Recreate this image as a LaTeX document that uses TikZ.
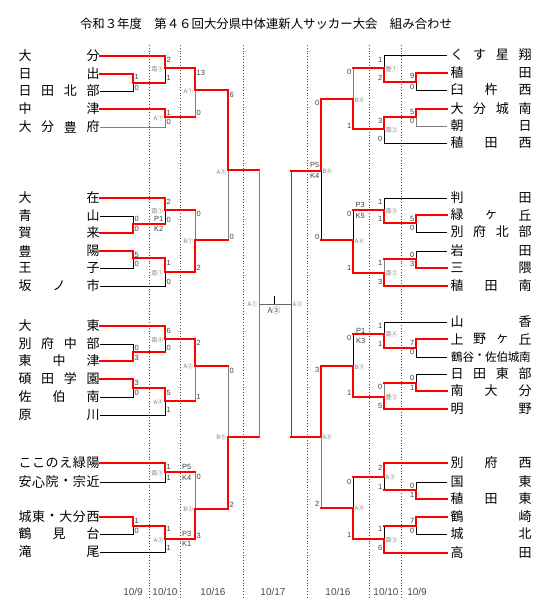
\documentclass[tikz,border=0pt]{standalone}
\usepackage{fontspec}
\setmainfont{Liberation Sans}
\newfontfamily\jp{Noto Sans CJK JP}
\tikzset{
  win/.style={red, line width=2.6pt, line cap=rect},
  winl/.style={red, line width=1.6pt, line cap=rect},
  lose/.style={black, line width=0.8pt},
  loseg/.style={black!50, line width=0.9pt},
  day/.style={black!70, dotted, line width=0.8pt},
  team/.style={font=\jp\fontsize{13}{13}\selectfont, inner sep=0pt},
  teams/.style={font=\jp\fontsize{11.6}{11.6}\selectfont, inner sep=0pt},
  scL/.style={anchor=west, font=\fontsize{7.5}{7.5}\selectfont, text=black!75, inner sep=0pt},
  scR/.style={anchor=east, font=\fontsize{7.5}{7.5}\selectfont, text=black!75, inner sep=0pt},
  venL/.style={anchor=east, font=\jp\fontsize{6}{6}\selectfont, text=black!50, inner sep=0pt},
  venR/.style={anchor=west, font=\jp\fontsize{6}{6}\selectfont, text=black!50, inner sep=0pt},
  datelab/.style={font=\fontsize{10}{10}\selectfont, text=black!70, inner sep=0pt}
}
% team names spread over a fixed width
\newcommand{\teamL}[4][team]{\foreach \ch [count=\i] in {#4} \node[#1] (L#2-\i) at ({25+(\i-1)*68/(#3-1)},#2) {\ch};}
\newcommand{\teamR}[4][team]{\foreach \ch [count=\i] in {#4} \node[#1] (R#2-\i) at ({457+(\i-1)*68/(#3-1)},#2) {\ch};}
\begin{document}
\begin{tikzpicture}[x=1pt,y=-1pt]
    \fill[white] (0,0) rectangle (541,611);
    \useasboundingbox (0,0) rectangle (541,611);

    %title
    \node[font=\jp\fontsize{12.4}{12.4}\selectfont] (title) at (266,24) {令和３年度　第４６回大分県中体連新人サッカー大会　組み合わせ};

    %days
    \foreach \x in {149,180,243,307,369,401}
        \draw[day] (\x,45) -- (\x,597);
    \node[datelab] (d1) at (133,592) {10/9};
    \node[datelab] (d2) at (165,592) {10/10};
    \node[datelab] (d3) at (213,592) {10/16};
    \node[datelab] (d4) at (273,592) {10/17};
    \node[datelab] (d5) at (338,592) {10/16};
    \node[datelab] (d6) at (386,592) {10/10};
    \node[datelab] (d7) at (417,592) {10/9};

    %left teams
    \teamL{56}{2}{大,分}
    \teamL{74}{2}{日,出}
    \teamL{91}{4}{日,田,北,部}
    \teamL{109}{2}{中,津}
    \teamL{127}{4}{大,分,豊,府}
    \teamL{198}{2}{大,在}
    \teamL{216}{2}{青,山}
    \teamL{233}{2}{賀,来}
    \teamL{251}{2}{豊,陽}
    \teamL{268}{2}{王,子}
    \teamL{286}{3}{坂,ノ,市}
    \teamL{326}{2}{大,東}
    \teamL{344}{4}{別,府,中,部}
    \teamL{361}{3}{東,中,津}
    \teamL{379}{4}{碩,田,学,園}
    \teamL{397}{3}{佐,伯,南}
    \teamL{415}{2}{原,川}
    \teamL{463}{6}{こ,こ,の,え,緑,陽}
    \teamL{482}{6}{安,心,院,・,宗,近}
    \teamL{517}{6}{城,東,・,大,分,西}
    \teamL{534}{3}{鶴,見,台}
    \teamL{552}{2}{滝,尾}

    %right teams
    \teamR{55}{4}{く,す,星,翔}
    \teamR{73}{2}{稙,田}
    \teamR{90}{3}{臼,杵,西}
    \teamR{109}{4}{大,分,城,南}
    \teamR{126}{2}{朝,日}
    \teamR{143}{3}{稙,田,西}
    \teamR{198}{2}{判,田}
    \teamR{215}{3}{緑,ヶ,丘}
    \teamR{232}{4}{別,府,北,部}
    \teamR{251}{2}{岩,田}
    \teamR{268}{2}{三,隈}
    \teamR{286}{3}{稙,田,南}
    \teamR{322}{2}{山,香}
    \teamR{339}{4}{上,野,ヶ,丘}
    \teamR[teams]{357}{7}{鶴,谷,・,佐,伯,城,南}
    \teamR{374}{4}{日,田,東,部}
    \teamR{391}{3}{南,大,分}
    \teamR{409}{2}{明,野}
    \teamR{463}{3}{別,府,西}
    \teamR{482}{2}{国,東}
    \teamR{499}{3}{稙,田,東}
    \teamR{517}{2}{鶴,崎}
    \teamR{534}{2}{城,北}
    \teamR{553}{2}{高,田}

    %left block 1
    \draw[lose] (100,91) -- (133,91) -- (133,83);
    \draw[lose] (165,83) -- (165,68);
    \draw[loseg] (100,127) -- (165,127) -- (165,117);
    \draw[loseg] (195,117) -- (195,90);
    \draw[loseg] (228,170) -- (228,240);
    \draw[winl] (100,74) -- (133,74) -- (133,83) -- (165,83);
    \draw[winl] (100,109) -- (165,109) -- (165,117) -- (195,117);
    \draw[win] (100,56) -- (165,56) -- (165,68) -- (195,68) -- (195,90) -- (228,90) -- (228,170) -- (259,170);

    %left block 2
    \draw[lose] (100,216) -- (133,216) -- (133,224);
    \draw[lose] (165,224) -- (165,210);
    \draw[lose] (100,268) -- (133,268) -- (133,258);
    \draw[lose] (100,286) -- (165,286) -- (165,272);
    \draw[loseg] (195,210) -- (195,240);
    \draw[win] (100,198) -- (165,198) -- (165,210) -- (195,210);
    \draw[winl] (100,233) -- (133,233) -- (133,224) -- (165,224);
    \draw[winl] (100,251) -- (133,251) -- (133,258) -- (165,258);
    \draw[win] (165,258) -- (165,272) -- (195,272) -- (195,240) -- (228,240);

    %left block 3
    \draw[lose] (100,344) -- (133,344) -- (133,352);
    \draw[lose] (165,352) -- (165,339);
    \draw[lose] (100,397) -- (133,397) -- (133,388);
    \draw[lose] (100,415) -- (165,415) -- (165,401);
    \draw[loseg] (195,401) -- (195,366);
    \draw[loseg] (228,366) -- (228,437);
    \draw[win] (100,326) -- (165,326) -- (165,339) -- (195,339) -- (195,366) -- (228,366);
    \draw[winl] (100,361) -- (133,361) -- (133,352) -- (165,352);
    \draw[winl] (100,379) -- (133,379) -- (133,388) -- (165,388);
    \draw[win] (165,388) -- (165,401) -- (195,401);

    %left block 4
    \draw[lose] (100,482) -- (165,482) -- (165,472);
    \draw[loseg] (195,472) -- (195,509);
    \draw[lose] (100,534) -- (133,534) -- (133,526);
    \draw[lose] (100,552) -- (165,552) -- (165,539);
    \draw[winl] (100,463) -- (165,463) -- (165,472) -- (195,472);
    \draw[win] (100,517) -- (133,517) -- (133,526);
    \draw[winl] (133,526) -- (165,526);
    \draw[win] (165,526) -- (165,539) -- (195,539) -- (195,509) -- (228,509) -- (228,437) -- (259,437);

    %semifinals and final
    \draw[loseg] (259,170) -- (259,437);
    \draw[black!70, line width=0.9pt] (291,171) -- (291,437);
    \draw[black!60, line width=0.9pt] (259,304) -- (291,304);
    \draw[lose] (274,296) -- (274,304);
    \node[venL] (f1) at (257.5,304) {A①};
    \node[venR] (f2) at (292.5,304) {A②};
    \node[font=\jp\fontsize{8}{8}\selectfont, text=black!70, inner sep=0pt] (f3) at (274,310) {A③};

    %right block 1
    \draw[lose] (447,55) -- (384,55) -- (384,68);
    \draw[lose] (447,90) -- (416,90) -- (416,82);
    \draw[loseg] (447,126) -- (416,126) -- (416,117);
    \draw[lose] (447,143) -- (384,143) -- (384,129);
    \draw[loseg] (353,68) -- (353,99);
    \draw[winl] (447,73) -- (416,73) -- (416,82) -- (384,82) -- (384,68) -- (353,68);
    \draw[winl] (447,109) -- (416,109) -- (416,117) -- (384,117) -- (384,129);
    \draw[win] (384,129) -- (353,129) -- (353,99) -- (321,99) -- (321,171) -- (291,171);

    %right block 2
    \draw[lose] (447,198) -- (384,198) -- (384,210);
    \draw[lose] (447,232) -- (416,232) -- (416,223);
    \draw[lose] (447,251) -- (416,251) -- (416,259);
    \draw[loseg] (384,259) -- (384,273);
    \draw[lose] (353,210) -- (353,240);
    \draw[lose] (321,171) -- (321,240);
    \draw[winl] (447,215) -- (416,215) -- (416,223) -- (384,223) -- (384,210) -- (353,210);
    \draw[winl] (447,268) -- (416,268) -- (416,259) -- (384,259);
    \draw[win] (447,286) -- (384,286) -- (384,273) -- (353,273) -- (353,240) -- (321,240);

    %right block 3
    \draw[lose] (447,322) -- (384,322) -- (384,334);
    \draw[lose] (447,357) -- (416,357) -- (416,348);
    \draw[lose] (447,374) -- (416,374) -- (416,383);
    \draw[loseg] (384,383) -- (384,397);
    \draw[lose] (353,334) -- (353,366);
    \draw[winl] (447,339) -- (416,339) -- (416,348) -- (384,348) -- (384,334) -- (353,334);
    \draw[winl] (447,391) -- (416,391) -- (416,383) -- (384,383);
    \draw[winl] (447,409) -- (384,409) -- (384,397) -- (353,397);
    \draw[win] (353,397) -- (353,366) -- (321,366) -- (321,437) -- (291,437);

    %right block 4
    \draw[lose] (447,482) -- (416,482) -- (416,490);
    \draw[lose] (384,490) -- (384,477);
    \draw[lose] (447,534) -- (416,534) -- (416,526);
    \draw[lose] (384,526) -- (384,539);
    \draw[lose] (353,477) -- (353,508);
    \draw[loseg] (321,508) -- (321,437);
    \draw[winl] (447,463) -- (384,463) -- (384,477) -- (353,477);
    \draw[winl] (447,499) -- (416,499) -- (416,490) -- (384,490);
    \draw[winl] (447,517) -- (416,517) -- (416,526) -- (384,526);
    \draw[win] (447,553) -- (384,553) -- (384,539) -- (353,539) -- (353,508) -- (321,508);

    %scores, left
    \foreach \x/\y/\s [count=\k] in {134.5/77/1, 134.5/88/0, 166.5/60/2, 166.5/78/1,
        166.5/113/1, 166.5/122/0, 196.5/73/13, 196.5/113/0, 229.5/95/6, 229.5/237/0,
        134.5/219/0, 134.5/229/0, 166.5/202/2, 166.5/220/0, 134.5/255/5, 134.5/264/0,
        166.5/263/1, 166.5/282/0, 196.5/214/0, 196.5/268/2,
        134.5/348/0, 134.5/358/3, 166.5/331/6, 166.5/348/0, 134.5/383/3, 134.5/393/0,
        166.5/393/5, 166.5/410/1, 196.5/343/2, 196.5/397/1, 229.5/371/0, 229.5/505/2,
        166.5/467/1, 166.5/478/1, 134.5/521/1, 134.5/531/0, 166.5/529/1, 166.5/548/1,
        196.5/477/0, 196.5/536/3}
        \node[scL] (sl\k) at (\x,\y) {\s};

    %scores, right
    \foreach \x/\y/\s [count=\k] in {414.5/76/9, 414.5/87/0, 382.5/60/1, 382.5/78/2,
        414.5/112/5, 414.5/121/0, 382.5/121/3, 382.5/139/0, 351.5/72/0, 351.5/126/1,
        319.5/103/0, 319.5/237/0,
        414.5/219/5, 414.5/228/0, 382.5/202/1, 382.5/219/1, 414.5/255/0, 414.5/264/3,
        382.5/263/1, 382.5/282/3, 351.5/214/0, 351.5/268/1,
        414.5/343/7, 414.5/352/0, 382.5/326/1, 382.5/344/1, 414.5/378/0, 414.5/388/1,
        382.5/387/0, 382.5/406/5, 351.5/338/0, 351.5/393/1, 319.5/370/3, 319.5/504/2,
        414.5/486/0, 414.5/495/1, 382.5/468/2, 382.5/487/1, 414.5/521/7, 414.5/531/0,
        382.5/529/1, 382.5/548/6, 351.5/482/0, 351.5/535/1}
        \node[scR] (sr\k) at (\x,\y) {\s};

    %penalty kicks
    \node[scL, anchor=east] (pk1) at (163.5,219) {P1};
    \node[scL, anchor=east] (pk2) at (163.5,229) {K2};
    \node[scL] (pk3) at (182,467) {P5};
    \node[scL] (pk4) at (182,478) {K4};
    \node[scL] (pk5) at (182,534) {P3};
    \node[scL] (pk6) at (182,544) {K1};
    \node[scR] (pk7) at (319.5,165) {P5};
    \node[scR] (pk8) at (319.5,176) {K4};
    \node[scL] (pk9) at (355.5,205) {P3};
    \node[scL] (pk10) at (355.5,216) {K5};
    \node[scL] (pk11) at (356,331) {P1};
    \node[scL] (pk12) at (356,341) {K3};

    %venues, left
    \foreach \x/\y/\s [count=\k] in {163.5/69/南③, 163.5/118/A①, 193.5/91/A①, 226.5/172/A⑤,
        163.5/211/南①, 163.5/273/南①, 193.5/241/B①,
        163.5/340/南④, 163.5/402/A④, 193.5/366/A②, 226.5/437/B⑤,
        163.5/473/南③, 163.5/540/A②, 193.5/509/B②}
        \node[venL] (vl\k) at (\x,\y) {\s};

    %venues, right
    \foreach \x/\y/\s [count=\k] in {385.5/69/豊①, 385.5/130/南②, 354.5/100/B④, 322.5/171/B⑥,
        385.5/211/南③, 385.5/273/南②, 354.5/241/A④,
        385.5/334/南④, 385.5/397/豊②, 354.5/367/B③, 322.5/437/A⑥,
        385.5/477/A③, 385.5/540/南③, 354.5/508/A③}
        \node[venR] (vr\k) at (\x,\y) {\s};
\end{tikzpicture}
\end{document}
